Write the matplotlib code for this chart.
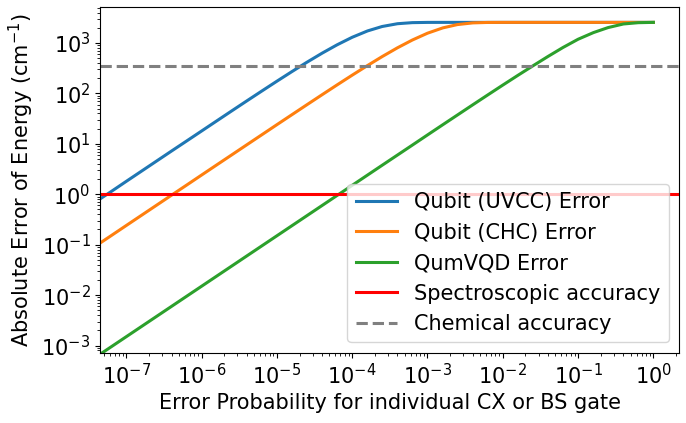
import matplotlib
matplotlib.use("Agg")
import matplotlib.pyplot as plt

# gate error probability (shared grid)
p = [4e-8, 6.3e-8, 1e-7, 1.6e-7, 2.5e-7, 4e-7, 6.3e-7,
     1e-6, 1.6e-6, 2.5e-6, 4e-6, 6.3e-6,
     1e-5, 1.6e-5, 2.5e-5, 4e-5, 6.3e-5,
     1e-4, 1.6e-4, 2.5e-4, 4e-4, 6.3e-4,
     1e-3, 1.6e-3, 2.5e-3, 4e-3, 6.3e-3,
     1e-2, 1.6e-2, 2.5e-2, 4e-2, 6.3e-2,
     1e-1, 1.6e-1, 2.5e-1, 4e-1, 6.3e-1, 1.0]

# absolute energy error in cm^-1
uvcc = [0.72, 1.13, 1.8, 2.88, 4.5, 7.2, 11.3,
        17.9, 28.6, 44.6, 71.0, 110.9,
        173.8, 272.3, 412.5, 627, 915,
        1291, 1726, 2113, 2399, 2520,
        2548, 2550, 2550, 2550, 2550,
        2550, 2550, 2550, 2550, 2550,
        2550, 2550, 2550, 2550, 2550, 2550]

chc = [0.096, 0.151, 0.24, 0.384, 0.6, 0.96, 1.51,
       2.4, 3.84, 5.99, 9.58, 15.07,
       23.9, 38.1, 59.3, 94.2, 146.8,
       229, 356, 534.6, 800, 1140,
       1555, 1984, 2307, 2491, 2543,
       2550, 2550, 2550, 2550, 2550,
       2550, 2550, 2550, 2550, 2550, 2550]

qumvqd = [6.0e-4, 9.45e-4, 1.5e-3, 2.4e-3, 3.75e-3, 6.0e-3, 9.45e-3,
          0.015, 0.024, 0.0375, 0.06, 0.0945,
          0.15, 0.24, 0.375, 0.6, 0.945,
          1.5, 2.4, 3.75, 5.99, 9.42,
          14.96, 23.9, 37.2, 59.3, 92.7,
          145.6, 229, 349, 540, 810,
          1180, 1600, 2010, 2370, 2515, 2550]

spectroscopic = 1.0
chemical = 349.75

fig, ax = plt.subplots(figsize=(6.86, 4.23), dpi=100)
fig.subplots_adjust(left=0.146, right=0.99, bottom=0.166, top=0.984)

ax.plot(p, uvcc, color="C0", lw=2.2, label="Qubit (UVCC) Error")
ax.plot(p, chc, color="C1", lw=2.2, label="Qubit (CHC) Error")
ax.plot(p, qumvqd, color="C2", lw=2.2, label="QumVQD Error")
ax.axhline(spectroscopic, color="red", lw=2.2, label="Spectroscopic accuracy")
ax.axhline(chemical, color="gray", lw=2.2, ls="--", label="Chemical accuracy")

ax.set_xscale("log")
ax.set_yscale("log")
ax.set_xlim(4.5e-8, 2.2)
ax.set_ylim(7.2e-4, 5200)

ax.set_xlabel("Error Probability for individual CX or BS gate", fontsize=15)
ax.set_ylabel("Absolute Error of Energy (cm$^{-1}$)", fontsize=15)
ax.tick_params(labelsize=15)
ax.legend(loc="lower right", fontsize=15)

fig.savefig("out.png", dpi=100)
